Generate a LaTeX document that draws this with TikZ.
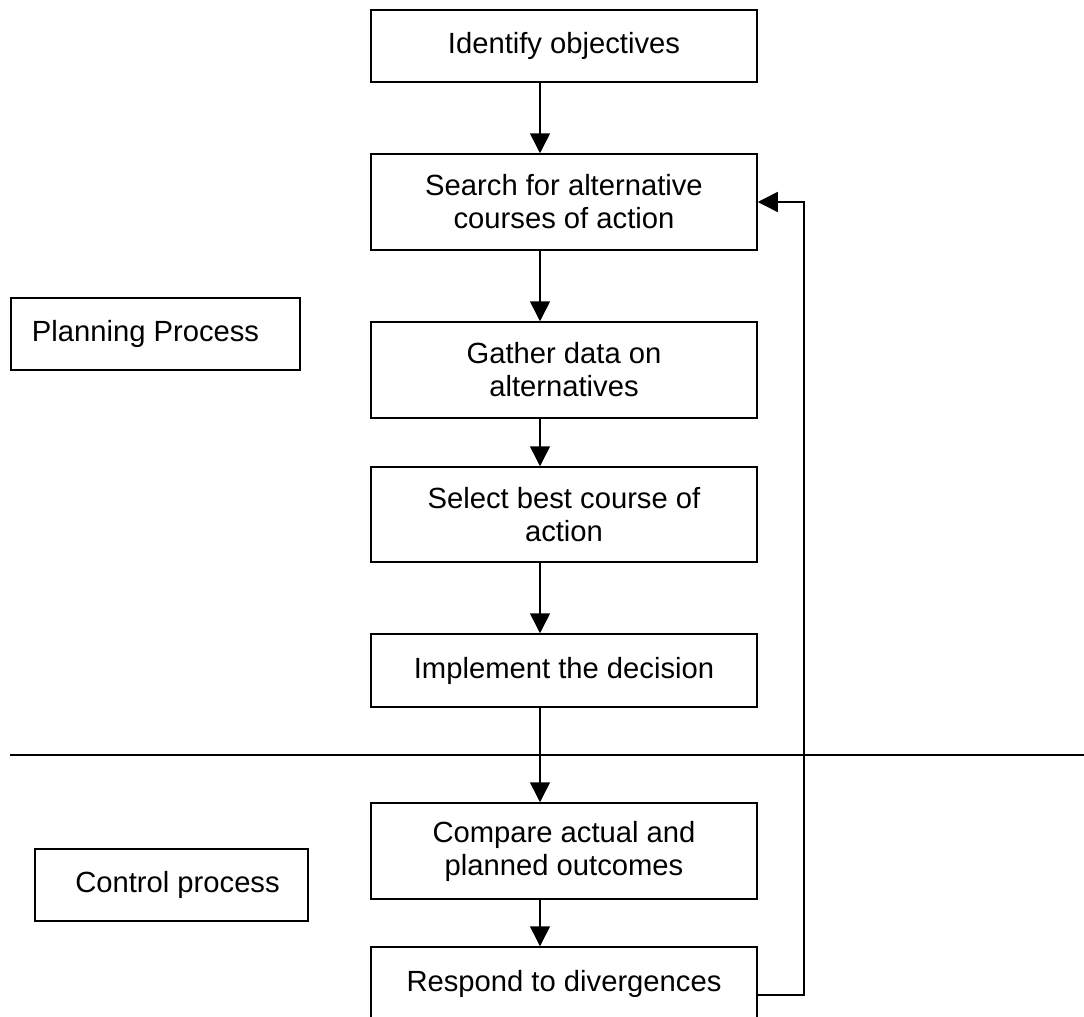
\documentclass[tikz,border=0pt]{standalone}
\usepackage{fontspec}
\setmainfont{Liberation Sans}
\usetikzlibrary{arrows.meta}

\tikzset{
    stepbox/.style={draw, line width=1.5pt, inner sep=0pt, align=center,
        minimum width=386pt, font=\fontsize{29.2}{33}\selectfont},
    sidebox/.style={stepbox, minimum height=72pt},
    arr/.style={line width=1.5pt, -{Triangle[length=20pt,width=20pt]}}
}

\begin{document}
\begin{tikzpicture}[x=1pt, y=-1pt]
    \useasboundingbox (0,0) rectangle (1084,1017);

    \node[stepbox, minimum height=72pt] (obj)    at (564,46)    {Identify objectives};
    \node[stepbox, minimum height=96pt] (search) at (564,202)   {Search for alternative\\courses of action};
    \node[stepbox, minimum height=96pt] (gather) at (564,370)   {Gather data on\\alternatives};
    \node[stepbox, minimum height=95pt] (select) at (564,514.5) {Select best course of\\action};
    \node[stepbox, minimum height=73pt] (impl)   at (564,670.5) {Implement the decision};
    \node[stepbox, minimum height=96pt] (comp)   at (564,851)   {Compare actual and\\planned outcomes};
    \node[stepbox, minimum height=73pt] (resp)   at (564,983.5) {Respond to divergences};

    \node[sidebox, minimum width=289pt] (plan) at (155.5,334) {Planning Process\hspace*{20pt}};
    \node[sidebox, minimum width=273pt] (ctrl) at (171.5,885) {\hspace*{12pt}Control process};

    % planning / control divide
    \draw[line width=2pt] (10,755) -- (1084,755);

    \coordinate (spine) at (540,0);
    \foreach \a/\b in {obj/search, search/gather, gather/select, select/impl, impl/comp, comp/resp}
        \draw[arr] (\a.south -| spine) -- (\b.north -| spine);

    % feedback loop
    \coordinate (loop) at (804,995);
    \draw[arr] (resp.east |- loop) -- (loop) |- (search.east);
\end{tikzpicture}
\end{document}
